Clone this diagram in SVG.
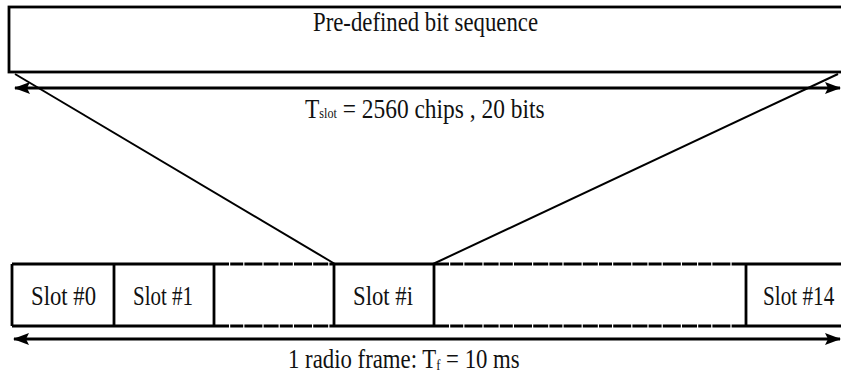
<svg xmlns="http://www.w3.org/2000/svg" width="841" height="375" viewBox="0 0 841 375">
<defs>
<style>
.ln{stroke:#000;stroke-width:2.8;fill:none}
.dl{stroke:#000;stroke-width:2;fill:none}
.ds{stroke:#000;stroke-width:2.8;fill:none;stroke-dasharray:15 1.2 13 1.2 18 1.2}
.tx{font-family:"Liberation Serif","Times New Roman",serif;font-size:27px;fill:#111}
</style>
<marker id="ah" viewBox="0 0 16 12" refX="15" refY="6" markerWidth="16" markerHeight="12" markerUnits="userSpaceOnUse" orient="auto-start-reverse">
<path d="M0,0 L16,6 L0,12 L3,6 Z" fill="#000"/>
</marker>
</defs>
<rect width="841" height="375" fill="#fff"/>
<g id="predefined">
<rect x="9" y="7" width="845" height="65" class="ln"/>
<text class="tx" x="313" y="31" textLength="225" lengthAdjust="spacingAndGlyphs">Pre-defined bit sequence</text>
</g>
<g id="frame">
<path class="ln" d="M12,264 H214 M334,264 H434 M746,264 H841 M12,326 H214 M334,326 H434 M746,326 H841 M12,264 V326 M114,264 V326 M214,264 V326 M334,264 V326 M434,264 V326 M746,264 V326"/>
<path class="ds" d="M214,264 H334 M434,264 H746 M214,326 H334 M434,326 H746"/>
</g>
<g id="slot0"><text class="tx" x="31" y="305" textLength="65" lengthAdjust="spacingAndGlyphs">Slot #0</text></g>
<g id="slot1"><text class="tx" x="133" y="305" textLength="60" lengthAdjust="spacingAndGlyphs">Slot #1</text></g>
<g id="sloti"><text class="tx" x="353" y="305" textLength="60" lengthAdjust="spacingAndGlyphs">Slot #i</text></g>
<g id="slot14"><text class="tx" transform="translate(763,305) scale(0.785,1)">Slot #14</text></g>
<g id="connectors">
<line class="ln" x1="15" y1="88" x2="840" y2="88" marker-start="url(#ah)" marker-end="url(#ah)"/>
<line class="ln" x1="14" y1="339" x2="840" y2="339" marker-start="url(#ah)" marker-end="url(#ah)"/>
<line class="dl" x1="15" y1="74" x2="335" y2="264"/>
<line class="dl" x1="433" y1="264" x2="838" y2="74"/>
</g>
<g id="labels">
<text class="tx" transform="translate(305,118) scale(0.868,1)">T<tspan font-size="14">slot</tspan> = 2560 chips , 20 bits</text>
<text class="tx" transform="translate(288,368) scale(0.844,1)">1 radio frame: T<tspan font-size="15" dy="2">f</tspan><tspan dy="-2"> = 10 ms</tspan></text>
</g>
</svg>
